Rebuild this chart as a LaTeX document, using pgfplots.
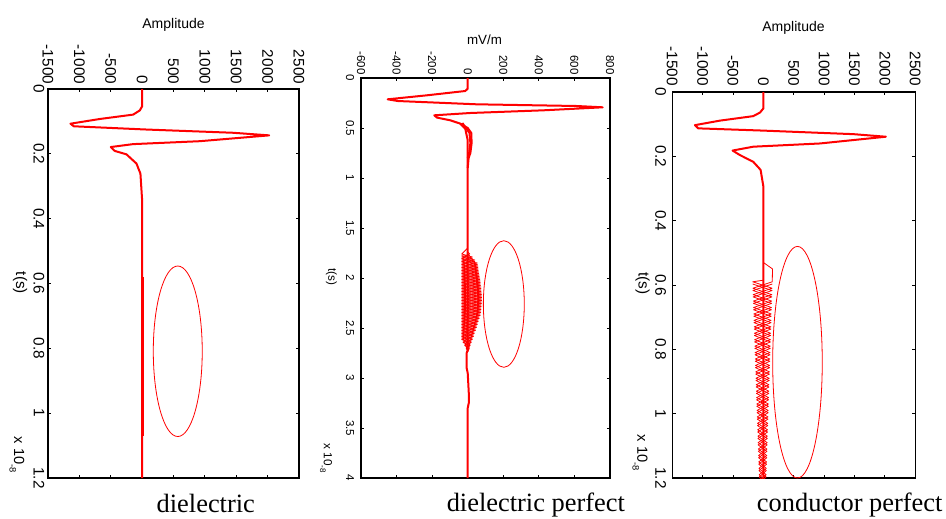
\documentclass[border=0pt]{standalone}
\usepackage{pgfplots}
\pgfplotsset{compat=1.18}
\usepackage{fontspec}
\setmainfont{Liberation Sans}
\newfontfamily\timesfont{Liberation Serif}

\pgfplotsset{
  rotplot/.style={
    scale only axis,
    anchor=south west,
    y dir=reverse,
    xticklabel pos=upper,
    tick align=inside,
    major tick length=2.5pt,
    axis line style={line width=0.8pt},
    every tick/.style={black, line width=0.6pt},
    /pgf/number format/assume math mode=true,
    /pgf/number format/1000 sep={},
  },
  mainline/.style={red, line width=1.5pt, line join=round, no marks},
  thinline/.style={red, line width=0.6pt, line join=round, no marks},
}

\begin{document}
\begin{tikzpicture}
\useasboundingbox (0,0) rectangle (709.5pt,-388.5pt);

% ---------------- Plot 1: dielectric ----------------
\begin{axis}[rotplot, at={(36pt,-358.5pt)}, width=188.25pt, height=291.75pt,
  xmin=-1500, xmax=2500, ymin=0, ymax=1.2,
  xtick={-1500,-1000,-500,0,500,1000,1500,2000,2500},
  ytick={0,0.2,0.4,0.6,0.8,1,1.2},
  tick label style={font=\fontsize{11.5}{12}\selectfont},
  xticklabel style={rotate=-90, anchor=east, inner sep=3.5pt},
  yticklabel style={rotate=-90, anchor=north, inner sep=2.5pt},
]
\addplot[mainline] coordinates {
(0,0) (0,0.0535) (-37,0.066) (-143,0.079) (-675,0.0925) (-1142,0.107)
(-1089,0.115) (69,0.125) (1450,0.135) (2024,0.143) (919,0.161) (-143,0.170)
(-499,0.179) (-436,0.191) (-250,0.2015) (-90,0.230) (-27,0.261) (0,0.343) (0,1.2)};
\addplot[red, line width=0.8pt, no marks] coordinates {(18,0.58) (18,1.07)};
\addplot[red, line width=0.6pt, densely dotted, no marks] coordinates {(-18,0.62) (-18,1.04)};
\draw[red, line width=0.6pt] (axis cs:568,0.809) ellipse [x radius=390, y radius=0.263];
\end{axis}

% ---------------- Plot 2: dielectric perfect ----------------
\begin{axis}[rotplot, at={(270.75pt,-358.5pt)}, width=186.75pt, height=300pt,
  xmin=-600, xmax=800, ymin=0, ymax=4,
  xtick={-600,-400,-200,0,200,400,600,800},
  ytick={0,0.5,1,1.5,2,2.5,3,3.5,4},
  tick label style={font=\fontsize{8.6}{9}\selectfont},
  xticklabel style={rotate=-90, anchor=east, inner sep=2.5pt},
  yticklabel style={rotate=-90, anchor=north, inner sep=5pt},
]
\addplot[mainline] coordinates {
(0,0) (0,0.107) (-14,0.130) (-229,0.173) (-450,0.213) (-394,0.230) (51,0.263)
(613,0.280) (759,0.293) (426,0.323) (14,0.350) (-188,0.373) (-173,0.396)
(-98,0.423) (-42,0.456) (-14,0.506) (0,0.623) (0,2.72) (-6,2.75) (-6,2.9)
(0,2.95) (6,3.15) (6,3.25) (0,3.3) (0,4)};
\addplot[red, line width=1.5pt, no marks] coordinates {
(-42,0.456) (0,0.5) (20,0.55) (22,0.65) (15,0.75) (5,0.8) (0,0.9)};
\addplot[red, line width=1.5pt, no marks] coordinates {
(-30,0.45) (-10,0.5) (10,0.55) (15,0.65) (8,0.75) (0,0.8)};
\addplot[thinline] coordinates {
(0,1.70) (-34,1.76) (26,1.79) (-34,1.82) (54,1.85) (-34,1.88) (59,1.91) (-34,1.94)
(65,1.97) (-34,2.00) (70,2.03) (-34,2.06) (74,2.09) (-34,2.12) (77,2.15)
(-34,2.18) (78,2.21) (-34,2.24) (76,2.27) (-34,2.30) (73,2.33) (-34,2.36)
(65,2.39) (-34,2.42) (54,2.45) (-34,2.48) (43,2.51) (-34,2.54) (32,2.57)
(-34,2.60) (20,2.63) (-17,2.66) (9,2.69) (0,2.72)};
\addplot[thinline] coordinates {
(0,1.74) (12,1.76) (-34,1.79) (40,1.82) (-34,1.85) (57,1.88) (-34,1.91) (62,1.94)
(-34,1.97) (68,2.00) (-34,2.03) (72,2.06) (-34,2.09) (75,2.12) (-34,2.15)
(78,2.18) (-34,2.21) (77,2.24) (-34,2.27) (74,2.30) (-34,2.33) (70,2.36)
(-34,2.39) (59,2.42) (-34,2.45) (49,2.48) (-34,2.51) (37,2.54) (-34,2.57)
(26,2.60) (-26,2.63) (14,2.66) (-9,2.69) (3,2.72)};
\addplot[thinline] coordinates {
(-34,1.775) (26,1.805) (-34,1.835) (54,1.865) (-34,1.895) (59,1.925) (-34,1.955)
(65,1.985) (-34,2.015) (70,2.045) (-34,2.075) (74,2.105) (-34,2.135) (77,2.165)
(-34,2.195) (78,2.225) (-34,2.255) (76,2.285) (-34,2.315) (73,2.345) (-34,2.375)
(65,2.405) (-34,2.435) (54,2.465) (-34,2.495) (43,2.525) (-34,2.555) (32,2.585)
(-34,2.615) (20,2.645) (-17,2.675) (9,2.705) (0,2.735)};
\addplot[thinline] coordinates {
(12,1.775) (-34,1.805) (40,1.835) (-34,1.865) (57,1.895) (-34,1.925) (62,1.955)
(-34,1.985) (68,2.015) (-34,2.045) (72,2.075) (-34,2.105) (75,2.135) (-34,2.165)
(78,2.195) (-34,2.225) (77,2.255) (-34,2.285) (74,2.315) (-34,2.345) (70,2.375)
(-34,2.405) (59,2.435) (-34,2.465) (49,2.495) (-34,2.525) (37,2.555) (-34,2.585)
(26,2.615) (-26,2.645) (14,2.675) (-9,2.705) (3,2.735)};
\draw[red, line width=0.6pt] (axis cs:203,2.26) ellipse [x radius=115, y radius=0.633];
\end{axis}

% ---------------- Plot 3: conductor perfect ----------------
\begin{axis}[rotplot, at={(504.2pt,-358.5pt)}, width=182.25pt, height=289.5pt,
  xmin=-1500, xmax=2500, ymin=0, ymax=1.2,
  xtick={-1500,-1000,-500,0,500,1000,1500,2000,2500},
  ytick={0,0.2,0.4,0.6,0.8,1,1.2},
  tick label style={font=\fontsize{11.5}{12}\selectfont},
  xticklabel style={rotate=-90, anchor=east, inner sep=4.5pt},
  yticklabel style={rotate=-90, anchor=north, inner sep=4.5pt},
]
\addplot[mainline] coordinates {
(0,0) (0,0.051) (-57,0.064) (-167,0.075) (-716,0.089) (-1127,0.103)
(-1072,0.113) (0,0.120) (1479,0.131) (2017,0.139) (931,0.160) (-167,0.170)
(-507,0.182) (-387,0.196) (-167,0.217) (-46,0.242) (0,0.294) (0,1.2)};
\addplot[thinline] coordinates {
(0,0.585) (-176,0.59) (143,0.61) (-169,0.63) (136,0.65) (-162,0.67) (129,0.69)
(-155,0.71) (123,0.73) (-147,0.75) (116,0.77) (-140,0.79) (109,0.81)
(-133,0.83) (102,0.85) (-126,0.87) (96,0.89) (-119,0.91) (89,0.93)
(-112,0.95) (82,0.97) (-104,0.99) (75,1.01) (-97,1.03) (68,1.05) (-90,1.07)
(62,1.09) (-83,1.11) (55,1.13) (-76,1.15) (48,1.17) (-69,1.19) (41,1.21)};
\addplot[thinline] coordinates {
(0,0.53) (150,0.55) (146,0.59) (-172,0.61) (140,0.63) (-165,0.65) (133,0.67)
(-158,0.69) (126,0.71) (-151,0.73) (119,0.75) (-144,0.77) (112,0.79)
(-137,0.81) (106,0.83) (-130,0.85) (99,0.87) (-122,0.89) (92,0.91)
(-115,0.93) (85,0.95) (-108,0.97) (79,0.99) (-101,1.01) (72,1.03) (-94,1.05)
(65,1.07) (-87,1.09) (58,1.11) (-79,1.13) (52,1.15) (-72,1.17) (45,1.19) (-65,1.21)};
\addplot[thinline] coordinates {
(-176,0.597) (143,0.617) (-169,0.637) (136,0.657) (-162,0.677) (129,0.697)
(-155,0.717) (123,0.737) (-147,0.757) (116,0.777) (-140,0.797) (109,0.817)
(-133,0.837) (102,0.857) (-126,0.877) (96,0.897) (-119,0.917) (89,0.937)
(-112,0.957) (82,0.977) (-104,0.997) (75,1.017) (-97,1.037) (68,1.057) (-90,1.077)
(62,1.097) (-83,1.117) (55,1.137) (-76,1.157) (48,1.177) (-69,1.197) (41,1.217)};
\addplot[thinline] coordinates {
(146,0.597) (-172,0.617) (140,0.637) (-165,0.657) (133,0.677)
(-158,0.697) (126,0.717) (-151,0.737) (119,0.757) (-144,0.777) (112,0.797)
(-137,0.817) (106,0.837) (-130,0.857) (99,0.877) (-122,0.897) (92,0.917)
(-115,0.937) (85,0.957) (-108,0.977) (79,0.997) (-101,1.017) (72,1.037) (-94,1.057)
(65,1.077) (-87,1.097) (58,1.117) (-79,1.137) (52,1.157) (-72,1.177) (45,1.197) (-65,1.217)};
\draw[red, line width=0.6pt] (axis cs:561,0.84) ellipse [x radius=408, y radius=0.36];
\end{axis}

% ---------------- Labels ----------------
\begin{scope}[x=0.75pt, y=-0.75pt]
\node[anchor=base, font=\fontsize{10.5}{12}\selectfont, inner sep=0pt] at (173.5,28.3) {Amplitude};
\node[anchor=base, font=\fontsize{10.5}{12}\selectfont, inner sep=0pt] at (793.5,31.7) {Amplitude};
\node[anchor=base, font=\fontsize{10}{12}\selectfont, inner sep=0pt] at (484.5,44) {mV/m};

\node[rotate=-90, font=\fontsize{11.5}{12}\selectfont, inner sep=0pt] at (20,283) {t(s)};
\node[rotate=-90, font=\fontsize{8.8}{10}\selectfont, inner sep=0pt] at (331.5,276.5) {t(s)};
\node[rotate=-90, font=\fontsize{11.5}{12}\selectfont, inner sep=0pt] at (642.5,283.5) {t(s)};

\node[rotate=-90, font=\fontsize{11}{12}\selectfont, inner sep=0pt] at (17,455) {x 10\raisebox{-0.6ex}{\fontsize{7}{8}\selectfont -8}};
\node[rotate=-90, font=\fontsize{8.8}{10}\selectfont, inner sep=0pt] at (326,458) {x 10\raisebox{-0.6ex}{\fontsize{6}{7}\selectfont -8}};
\node[rotate=-90, font=\fontsize{11}{12}\selectfont, inner sep=0pt] at (640,453) {x 10\raisebox{-0.6ex}{\fontsize{7}{8}\selectfont -8}};

\node[anchor=base, font=\timesfont\fontsize{19.8}{22}\selectfont, inner sep=0pt] at (205.8,512) {dielectric};
\node[anchor=base, font=\timesfont\fontsize{19.8}{22}\selectfont, inner sep=0pt] at (535.8,511) {dielectric perfect};
\node[anchor=base, font=\timesfont\fontsize{19.8}{22}\selectfont, inner sep=0pt] at (849.7,511.7) {conductor perfect};
\end{scope}
\end{tikzpicture}
\end{document}
